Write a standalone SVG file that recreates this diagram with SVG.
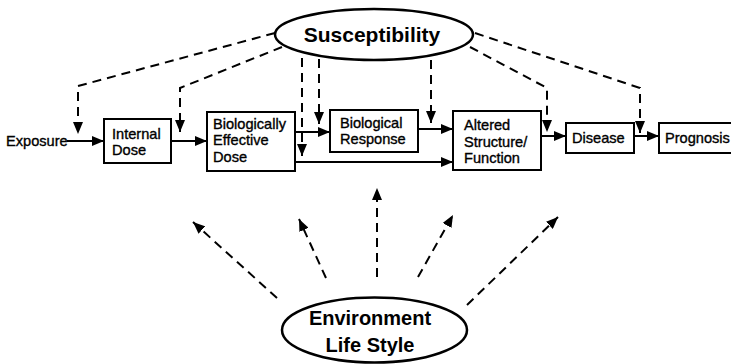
<svg xmlns="http://www.w3.org/2000/svg" width="731" height="364" viewBox="0 0 731 364">
<style>
.box{fill:#fff;stroke:#000;stroke-width:2}
.ell{fill:#fff;stroke:#000;stroke-width:2.5}
.t{font-family:"Liberation Sans",Arial,sans-serif;font-size:14.6px;fill:#000;stroke:#000;stroke-width:0.35}
.big{font-family:"Liberation Sans",Arial,sans-serif;font-weight:bold;fill:#000}
.solid{fill:none;stroke:#000;stroke-width:2;marker-end:url(#ah)}
.dash{fill:none;stroke:#000;stroke-width:2;stroke-dasharray:9 6;marker-end:url(#ah)}
</style>
<defs>
<marker id="ah" viewBox="0 0 12 10" refX="12" refY="5" markerUnits="userSpaceOnUse" markerWidth="12" markerHeight="10" orient="auto">
<path d="M0,0 L12,5 L0,10 z" fill="#000"/>
</marker>
</defs>
<rect width="731" height="364" fill="#fff"/>
<g id="connectors">
<path class="solid" d="M67,141 L104,141"/>
<path class="solid" d="M171,141 L207,141"/>
<path class="solid" d="M295,132 L330,132"/>
<path class="solid" d="M295,162 L453,162"/>
<path class="solid" d="M418,129 L453,129"/>
<path class="solid" d="M541,136 L566,136"/>
<path class="solid" d="M634,136 L659,136"/>
<path class="dash" d="M275,33 L78,86 L78,134"/>
<path class="dash" d="M282,47 L180,88 L180,132"/>
<path class="dash" d="M302,58 L302,156"/>
<path class="dash" d="M319,59 L319,124"/>
<path class="dash" d="M431,60 L431,123"/>
<path class="dash" d="M470,47 L547,88 L547,132"/>
<path class="dash" d="M475,33 L640,88 L640,133"/>
<path class="dash" d="M277,298 L193,222"/>
<path class="dash" d="M326,278 L299,219"/>
<path class="dash" d="M377,277 L377,188"/>
<path class="dash" d="M418,277 L453,215"/>
<path class="dash" d="M467,305 L558,217"/>
</g>
<g id="susceptibility">
<ellipse class="ell" cx="374" cy="34.5" rx="99" ry="25.5"/>
<text class="big" x="372" y="42" font-size="21" text-anchor="middle">Susceptibility</text>
</g>
<g id="environment">
<ellipse class="ell" cx="374.5" cy="330" rx="92.5" ry="32.5"/>
<text class="big" x="370" y="325" font-size="20" text-anchor="middle">Environment</text>
<text class="big" x="370" y="352" font-size="20" text-anchor="middle">Life Style</text>
</g>
<g id="exposure">
<text class="t" x="6" y="146">Exposure</text>
</g>
<g id="internal-dose">
<rect class="box" x="104" y="119" width="67" height="44"/>
<text class="t" x="112" y="139">Internal</text>
<text class="t" x="112" y="155">Dose</text>
</g>
<g id="bed">
<rect class="box" x="207" y="112" width="88" height="59"/>
<text class="t" x="213" y="129">Biologically</text>
<text class="t" x="213" y="145">Effective</text>
<text class="t" x="213" y="162">Dose</text>
</g>
<g id="bio-response">
<rect class="box" x="330" y="110" width="88" height="42"/>
<text class="t" x="340" y="128">Biological</text>
<text class="t" x="340" y="144">Response</text>
</g>
<g id="altered">
<rect class="box" x="453" y="111" width="88" height="59"/>
<text class="t" x="464" y="130">Altered</text>
<text class="t" x="464" y="147">Structure/</text>
<text class="t" x="464" y="163">Function</text>
</g>
<g id="disease">
<rect class="box" x="566" y="123" width="68" height="30"/>
<text class="t" x="572" y="143">Disease</text>
</g>
<g id="prognosis">
<rect class="box" x="659" y="123" width="80" height="30"/>
<text class="t" x="665" y="143">Prognosis</text>
</g>
</svg>
